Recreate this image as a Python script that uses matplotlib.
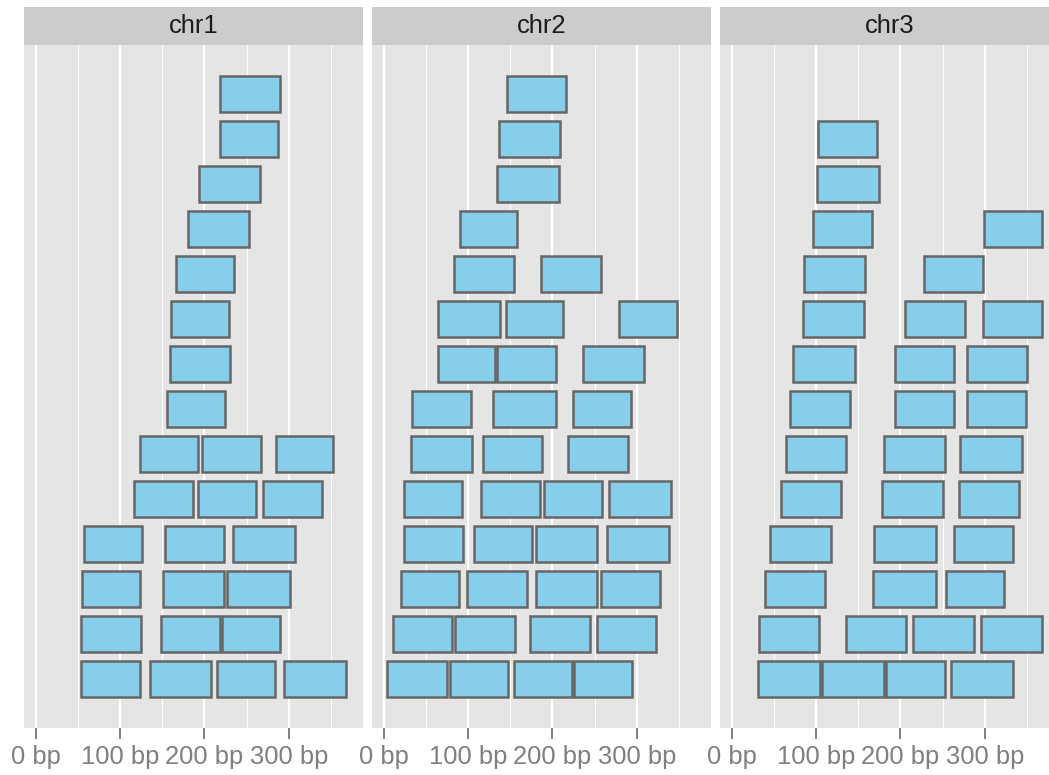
import matplotlib
matplotlib.use("Agg")
import matplotlib.pyplot as plt

plt.rcParams["font.family"] = ["Liberation Sans", "DejaVu Sans"]

chromosomes = ["chr1", "chr2", "chr3"]

# Ranges per chromosome: start, end (bp) and stacking level
chr1_start = [219, 219, 194, 181, 166, 160, 159, 155,
              124, 197, 285,
              117, 192, 270,
              57, 153, 234,
              55, 151, 227,
              53, 149, 221,
              53, 136, 215, 294]
chr1_end = [290, 287, 266, 253, 235, 229, 230, 224,
            192, 267, 353,
            186, 261, 339,
            126, 223, 307,
            124, 223, 301,
            125, 218, 289,
            124, 208, 284, 368]
chr1_level = [14, 13, 12, 11, 10, 9, 8, 7,
              6, 6, 6,
              5, 5, 5,
              4, 4, 4,
              3, 3, 3,
              2, 2, 2,
              1, 1, 1, 1]

chr2_start = [146, 137, 134, 90,
              83, 186,
              64, 145, 279,
              64, 134, 236,
              34, 130, 224,
              32, 118, 219,
              24, 115, 190, 267,
              24, 107, 181, 265,
              20, 99, 180, 258,
              11, 84, 173, 253,
              4, 78, 154, 225]
chr2_end = [216, 209, 208, 158,
            154, 258,
            138, 213, 348,
            132, 204, 309,
            103, 204, 293,
            105, 188, 290,
            93, 185, 259, 340,
            94, 176, 253, 338,
            89, 170, 253, 328,
            81, 155, 244, 323,
            75, 147, 223, 294]
chr2_level = [14, 13, 12, 11,
              10, 10,
              9, 9, 9,
              8, 8, 8,
              7, 7, 7,
              6, 6, 6,
              5, 5, 5, 5,
              4, 4, 4, 4,
              3, 3, 3, 3,
              2, 2, 2, 2,
              1, 1, 1, 1]

chr3_start = [102, 101,
              96, 299,
              86, 228,
              85, 205, 298,
              72, 194, 279,
              69, 193, 279,
              64, 180, 271,
              58, 178, 269,
              45, 169, 264,
              39, 168, 254,
              32, 136, 215, 296,
              31, 107, 183, 260]
chr3_end = [172, 174,
            166, 368,
            158, 298,
            157, 276, 368,
            146, 264, 350,
            140, 264, 349,
            136, 253, 344,
            130, 251, 340,
            118, 242, 334,
            111, 242, 323,
            103, 206, 287, 368,
            104, 181, 253, 334]
chr3_level = [13, 12,
              11, 11,
              10, 10,
              9, 9, 9,
              8, 8, 8,
              7, 7, 7,
              6, 6, 6,
              5, 5, 5,
              4, 4, 4,
              3, 3, 3,
              2, 2, 2, 2,
              1, 1, 1, 1]

starts = [chr1_start, chr2_start, chr3_start]
ends = [chr1_end, chr2_end, chr3_end]
levels = [chr1_level, chr2_level, chr3_level]

major_ticks = [0, 100, 200, 300]
tick_labels = ["0 bp", "100 bp", "200 bp", "300 bp"]
minor_ticks = [50, 150, 250, 350]

W, H = 1049, 775
fig = plt.figure(figsize=(W / 100, H / 100), dpi=100)
fig.patch.set_facecolor("white")

panel_left = [24, 372, 720]
panel_w = 339
panel_top, panel_bottom = 45, 727.7
strip_top = 7
font_size = 18.4

for i, name in enumerate(chromosomes):
    x0 = panel_left[i]
    ax = fig.add_axes([x0 / W, 1 - panel_bottom / H, panel_w / W,
                       (panel_bottom - panel_top) / H])
    ax.set_facecolor("#E5E5E5")
    for s in ax.spines.values():
        s.set_visible(False)
    ax.set_xlim(-14, 388)
    ax.set_ylim(-0.08, 15.1)
    for m in minor_ticks:
        ax.axvline(m, color="white", lw=0.8, zorder=0.5)
    for m in major_ticks:
        ax.axvline(m, color="white", lw=1.6, zorder=0.6)
    widths = [e - s for s, e in zip(starts[i], ends[i])]
    ax.barh(levels[i], widths, left=starts[i], height=0.8,
            color="#87CEEB", edgecolor="#666666", linewidth=1.8,
            zorder=2)
    ax.set_xticks(major_ticks)
    ax.set_xticklabels(tick_labels)
    ax.set_yticks([])
    ax.tick_params(axis="x", length=7.7, width=1.4, color="#7F7F7F",
                   labelcolor="#7F7F7F", labelsize=font_size, pad=5)

    sax = fig.add_axes([x0 / W, 1 - panel_top / H, panel_w / W,
                        (panel_top - strip_top) / H])
    sax.set_facecolor("#CCCCCC")
    for s in sax.spines.values():
        s.set_visible(False)
    sax.set_xticks([])
    sax.set_yticks([])
    sax.text(0.5, 0.5, name, transform=sax.transAxes,
             ha="center", va="center", fontsize=font_size, color="#1A1A1A")

fig.savefig("out.png", dpi=100)
